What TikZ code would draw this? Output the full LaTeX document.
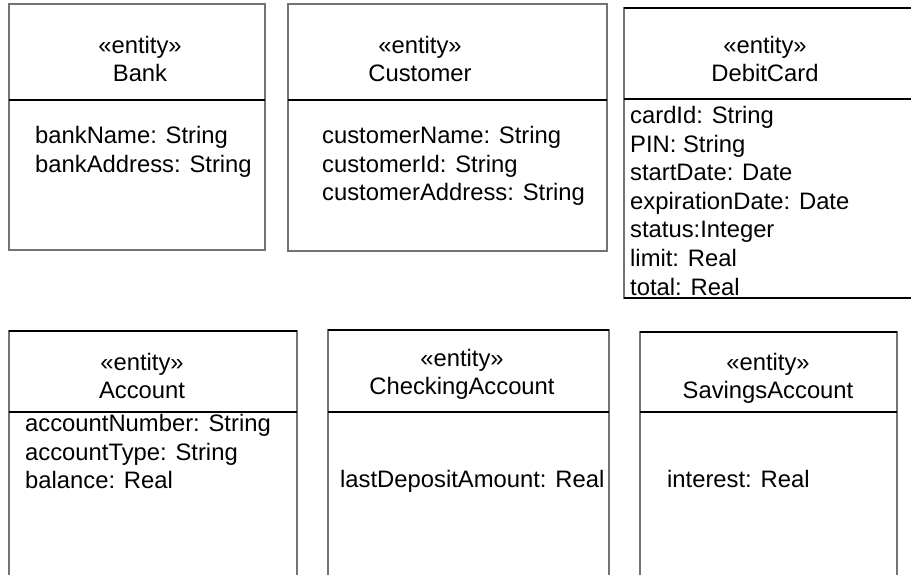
\documentclass[tikz,border=0pt]{standalone}
\usepackage{fontspec}
\setmainfont{Liberation Sans}
\definecolor{boxgray}{gray}{0.45}
\begin{document}
\begin{tikzpicture}[x=1pt,y=-1pt,
  classbox/.style={draw=boxgray, line width=1.3pt, anchor=north west, inner sep=0pt, outer sep=0pt},
  divider/.style={draw=black, line width=1.4pt},
  rim/.style={draw=black, line width=1.3pt},
  head/.style={align=center, anchor=north, inner sep=0pt, font=\fontsize{23.8}{28}\selectfont},
  attrs/.style={align=left, anchor=north west, inner sep=0pt, font=\fontsize{23.8}{28.6}\selectfont}]
\useasboundingbox (0,0) rectangle (911,575);
\clip (0,0) rectangle (911,575);

% class frames (right and bottom edges of some run past the page)
\node[classbox, minimum width=256pt, minimum height=246pt] (bank)     at (9,4)     {};
\node[classbox, minimum width=319pt, minimum height=247pt] (customer) at (288,4)   {};
\node[classbox, minimum width=320pt, minimum height=290pt] (debit)    at (624,8)   {};
\node[classbox, minimum width=288pt, minimum height=260pt] (account)  at (9,331)   {};
\node[classbox, minimum width=281pt, minimum height=260pt] (checking) at (328,330) {};
\node[classbox, minimum width=257pt, minimum height=260pt] (savings)  at (640,332) {};

% darker horizontal rims
\draw[rim] (debit.north west) -- (debit.north east);
\draw[rim] (debit.south west) -- (debit.south east);
\draw[rim] (account.north west) -- (account.north east);
\draw[rim] (checking.north west) -- (checking.north east);
\draw[rim] (savings.north west) -- (savings.north east);

% compartment dividers
\draw[divider] (bank.west |- 0,100) -- (bank.east |- 0,100);
\draw[divider] (customer.west |- 0,100) -- (customer.east |- 0,100);
\draw[divider, line width=2.2pt] (debit.west |- 0,99) -- (debit.east |- 0,99);
\draw[divider] (account.west |- 0,412) -- (account.east |- 0,412);
\draw[divider] (checking.west |- 0,412) -- (checking.east |- 0,412);
\draw[divider] (savings.west |- 0,412) -- (savings.east |- 0,412);

% class names
\node[head] (bankH)     at (140,36)  {«entity»\\Bank};
\node[head] (customerH) at (420,36)  {«entity»\\Customer};
\node[head] (debitH)    at (765,36)  {«entity»\\DebitCard};
\node[head] (accountH)  at (142,353) {«entity»\\Account};
\node[head] (checkingH) at (462,349) {«entity»\\CheckingAccount};
\node[head] (savingsH)  at (768,353) {«entity»\\SavingsAccount};

% attributes
\node[attrs] (bankA) at (35,126) {bankName: String\\bankAddress: String};
\node[attrs] (customerA) at (322,126) {customerName: String\\customerId: String\\customerAddress: String};
\node[attrs] (debitA) at (630,106) {cardId: String\\PIN: String\\startDate: Date\\expirationDate: Date\\status:Integer\\limit: Real\\total: Real};
\node[attrs] (accountA) at (25,414) {accountNumber: String\\accountType: String\\balance: Real};
\node[attrs] (checkingA) at (340,470) {lastDepositAmount: Real};
\node[attrs] (savingsA) at (667,470) {interest: Real};
\end{tikzpicture}
\end{document}
